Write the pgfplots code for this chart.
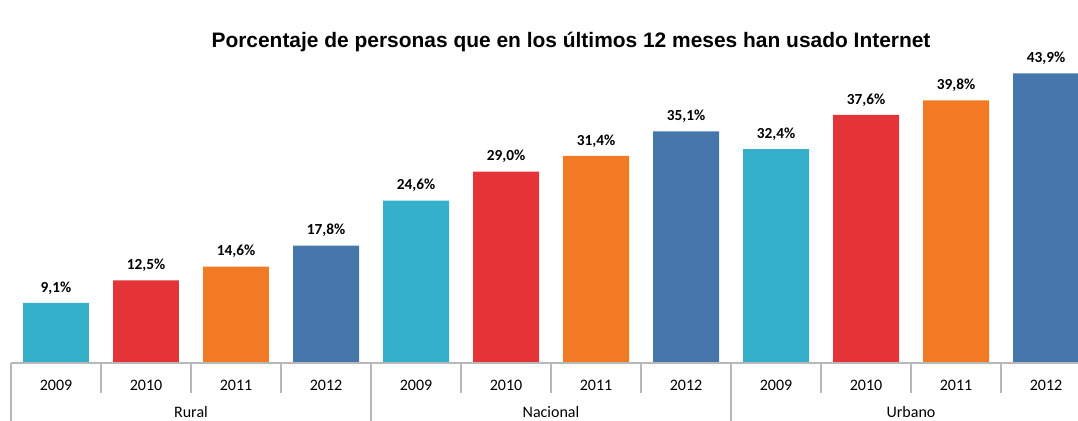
\documentclass[border=0pt]{standalone}
\usepackage{fontspec}
\setmainfont{Carlito}
\newfontfamily\titlefont{Liberation Sans}
\usepackage{pgfplots}
\pgfplotsset{compat=1.18}
\definecolor{cTeal}{HTML}{35B0CB}
\definecolor{cRed}{HTML}{E43437}
\definecolor{cOrange}{HTML}{F27A24}
\definecolor{cBlue}{HTML}{4677AC}
\definecolor{cGrid}{HTML}{B8B8B8}
\begin{document}
\begin{tikzpicture}
\path[use as bounding box] (0pt,0pt) rectangle (808.5pt,315.75pt);
\begin{axis}[at={(8.25pt,43.5pt)}, anchor=south west, scale only axis,
  width=800.25pt, height=247.5pt,
  xmin=0, xmax=11.8556, ymin=0, ymax=50, clip=false,
  axis line style={draw=none}, ytick=\empty,
  xtick={0.5,1.5,2.5,3.5,4.5,5.5,6.5,7.5,8.5,9.5,10.5,11.5},
  xticklabels={2009,2010,2011,2012,2009,2010,2011,2012,2009,2010,2011,2012},
  major tick length=0pt,
  xticklabel style={anchor=center, yshift=-16.5pt, font=\fontsize{12}{14}\selectfont},
  ybar, bar width=0.7333, bar shift=0pt,
  nodes near coords, point meta=explicit symbolic,
  every node near coord/.append style={font=\bfseries\fontsize{11.5}{13}\selectfont, black, anchor=center, yshift=11.25pt},
  ]
\addplot[fill=cTeal, draw=none] coordinates {(0.5,9.1) [9,1\%] (4.5,24.6) [24,6\%] (8.5,32.4) [32,4\%]};
\addplot[fill=cRed, draw=none] coordinates {(1.5,12.5) [12,5\%] (5.5,29.0) [29,0\%] (9.5,37.6) [37,6\%]};
\addplot[fill=cOrange, draw=none] coordinates {(2.5,14.6) [14,6\%] (6.5,31.4) [31,4\%] (10.5,39.8) [39,8\%]};
\addplot[fill=cBlue, draw=none] coordinates {(3.5,17.8) [17,8\%] (7.5,35.1) [35,1\%] (11.5,43.9) [43,9\%]};
\draw[cGrid, line width=0.9pt] (axis cs:0,0) -- (axis cs:11.8556,0);
\pgfplotsinvokeforeach{0,4,8}{\draw[cGrid, line width=0.9pt] (axis cs:#1,0) -- ([yshift=-43.5pt]axis cs:#1,0);}
\pgfplotsinvokeforeach{1,2,3,5,6,7,9,10,11}{\draw[cGrid, line width=0.9pt] (axis cs:#1,0) -- ([yshift=-22.5pt]axis cs:#1,0);}
\node[font=\fontsize{12}{14}\selectfont] at ([yshift=-37pt]axis cs:2,0) {Rural};
\node[font=\fontsize{12}{14}\selectfont] at ([yshift=-37pt]axis cs:6,0) {Nacional};
\node[font=\fontsize{12}{14}\selectfont] at ([yshift=-37pt]axis cs:10,0) {Urbano};
\end{axis}
\node[font=\titlefont\bfseries\fontsize{15.7}{18}\selectfont] at (428.25pt,284.25pt) {Porcentaje de personas que en los últimos 12 meses han usado Internet};
\end{tikzpicture}
\end{document}
